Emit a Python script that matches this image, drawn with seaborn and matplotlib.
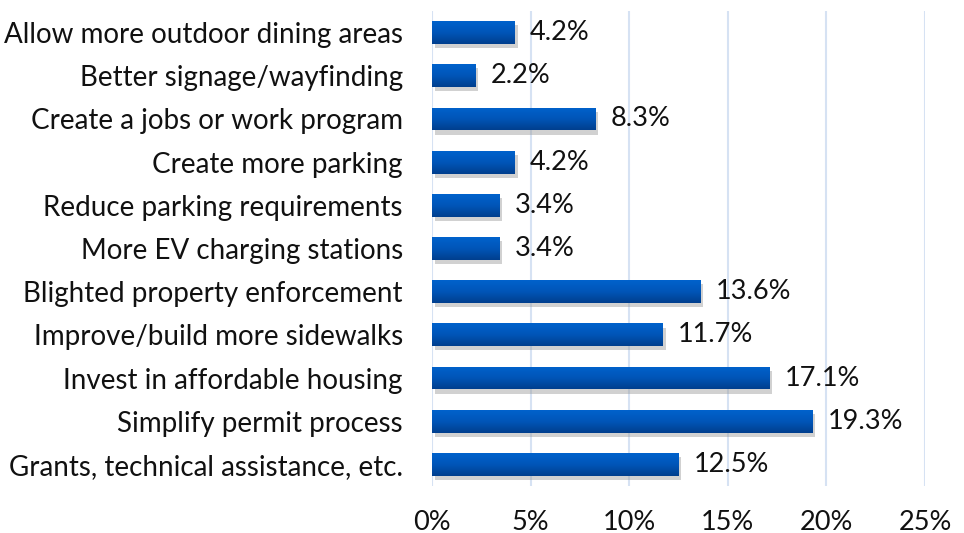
import matplotlib
matplotlib.use("Agg")
import matplotlib.pyplot as plt
import matplotlib.patheffects as pe
from matplotlib.colors import LinearSegmentedColormap
import numpy as np
import seaborn as sns
import pandas as pd

categories = [
    "Allow more outdoor dining areas",
    "Better signage/wayfinding",
    "Create a jobs or work program",
    "Create more parking",
    "Reduce parking requirements",
    "More EV charging stations",
    "Blighted property enforcement",
    "Improve/build more sidewalks",
    "Invest in affordable housing",
    "Simplify permit process",
    "Grants, technical assistance, etc.",
]
values = [4.2, 2.2, 8.3, 4.2, 3.4, 3.4, 13.6, 11.7, 17.1, 19.3, 12.5]
x_ticks = [0, 5, 10, 15, 20, 25]

df = pd.DataFrame({"category": categories, "value": values})

sns.set_theme(style="white")
plt.rcParams["font.family"] = ["Lato", "DejaVu Sans"]

fig = plt.figure(figsize=(9.64, 5.33), dpi=100)
ax = fig.add_axes([432 / 964, 1 - 486 / 533, (925 - 432) / 964, (486 - 11) / 533])

sns.barplot(data=df, x="value", y="category", order=categories, orient="h",
            color="#0052B0", saturation=1, width=0.53, linewidth=0, ax=ax, zorder=3)

cmap = LinearSegmentedColormap.from_list("barg", ["#0062CC", "#0055B8", "#003F8E"])
grad = np.linspace(0, 1, 64).reshape(-1, 1)
for p in ax.patches:
    p.set_path_effects([pe.SimplePatchShadow(offset=(2, -3), shadow_rgbFace="#9a9a9a", alpha=0.45),
                        pe.Normal()])
    x0, y0 = p.get_x(), p.get_y()
    w, h = p.get_width(), p.get_height()
    im = ax.imshow(grad, cmap=cmap, aspect="auto", origin="upper",
                   extent=(x0, x0 + w, y0 + h, y0), zorder=4, interpolation="bilinear")
    im.set_clip_path(p)

ax.bar_label(ax.containers[0], labels=[f"{v:.1f}%" for v in values], padding=11,
             fontsize=19.5, color="#111111")

ax.set_xlim(0, 25)
ax.set_xticks(x_ticks)
ax.set_xticklabels([f"{t}%" for t in x_ticks])
ax.set_ylim(len(categories) - 0.5, -0.5)
ax.set_aspect("auto")
ax.xaxis.grid(True, color="#D6E2F3", linewidth=1.5, zorder=0)
ax.set_axisbelow(True)
for s in ax.spines.values():
    s.set_visible(False)
ax.tick_params(axis="x", length=0, pad=17, labelsize=19.5, labelcolor="#111111")
ax.tick_params(axis="y", length=0, pad=21, labelsize=20, labelcolor="#111111")
ax.set_xlabel("")
ax.set_ylabel("")

fig.savefig("out.png", dpi=100)
